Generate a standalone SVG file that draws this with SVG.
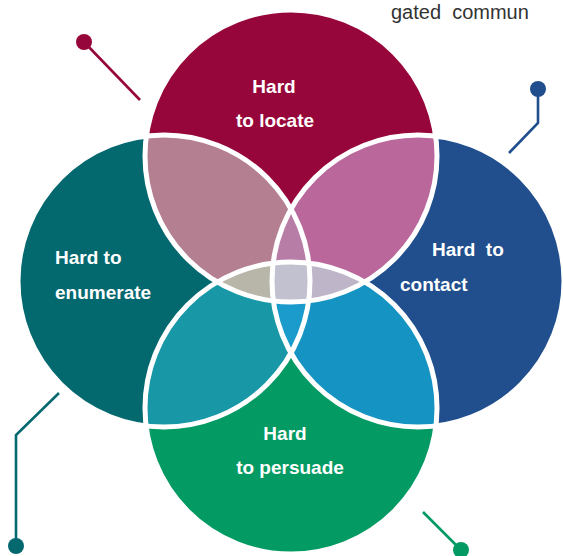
<svg xmlns="http://www.w3.org/2000/svg" width="563" height="556" viewBox="0 0 563 556">
<style>
.lbl{font-family:"Liberation Sans",Arial,sans-serif;font-weight:bold;font-size:19px;fill:#ffffff}
.cap{font-family:"Liberation Sans",Arial,sans-serif;font-size:20px;fill:#333333}
.ring{fill:none;stroke:#ffffff;stroke-width:5}
.lead{fill:none;stroke-width:2.6}
</style>
<defs>
<clipPath id="cT"><circle cx="291" cy="156" r="146"/></clipPath>
<clipPath id="cL"><circle cx="164" cy="281" r="146"/></clipPath>
<clipPath id="cR"><circle cx="418" cy="281" r="146"/></clipPath>
<clipPath id="cB"><circle cx="291" cy="408" r="146"/></clipPath>
</defs>
<rect width="563" height="556" fill="#ffffff"/>
<text class="cap" x="391" y="19" xml:space="preserve">gated  commun</text>

<g id="connectors">
<polyline class="lead" stroke="#97063A" points="84,42 140,100"/>
<circle cx="84" cy="42" r="8" fill="#97063A"/>
<polyline class="lead" stroke="#214F8E" points="538,89 538,123 509,153"/>
<circle cx="538" cy="89" r="8" fill="#214F8E"/>
<polyline class="lead" stroke="#04686F" points="59,393 16,435 16,546"/>
<circle cx="16" cy="546" r="8" fill="#04686F"/>
<polyline class="lead" stroke="#039A63" points="423,512 461,550"/>
<circle cx="461" cy="550" r="8" fill="#039A63"/>
</g>

<g id="node-locate"><circle cx="291" cy="156" r="146" fill="#97063A"/></g>
<g id="node-enumerate"><circle cx="164" cy="281" r="147" fill="#04686F"/></g>
<g id="node-contact"><circle cx="418" cy="281" r="146" fill="#214F8E"/></g>
<g id="node-persuade"><circle cx="291" cy="408" r="146" fill="#039A63"/></g>

<g id="overlaps">
<g clip-path="url(#cT)"><circle cx="164" cy="281" r="146" fill="#B47F90"/></g>
<g clip-path="url(#cT)"><circle cx="418" cy="281" r="146" fill="#BA679C"/></g>
<g clip-path="url(#cB)"><circle cx="164" cy="281" r="146" fill="#1898A6"/></g>
<g clip-path="url(#cB)"><circle cx="418" cy="281" r="146" fill="#1594C3"/></g>
<g clip-path="url(#cT)"><g clip-path="url(#cL)"><circle cx="418" cy="281" r="146" fill="#B87DA7"/></g></g>
<g clip-path="url(#cT)"><g clip-path="url(#cL)"><circle cx="291" cy="408" r="146" fill="#B8B6A9"/></g></g>
<g clip-path="url(#cT)"><g clip-path="url(#cR)"><circle cx="291" cy="408" r="146" fill="#BFB5C8"/></g></g>
<g clip-path="url(#cB)"><g clip-path="url(#cL)"><circle cx="418" cy="281" r="146" fill="#1B9BCC"/></g></g>
<g clip-path="url(#cT)"><g clip-path="url(#cL)"><g clip-path="url(#cR)"><circle cx="291" cy="408" r="146" fill="#C1C1CF"/></g></g></g>
</g>

<g id="outlines">
<circle class="ring" cx="291" cy="156" r="146"/>
<circle class="ring" cx="164" cy="281" r="146"/>
<circle class="ring" cx="418" cy="281" r="146"/>
<circle class="ring" cx="291" cy="408" r="146"/>
</g>

<g id="labels">
<text class="lbl" x="274" y="93" text-anchor="middle">Hard</text>
<text class="lbl" x="275" y="127" text-anchor="middle">to locate</text>
<text class="lbl" x="55" y="264">Hard to</text>
<text class="lbl" x="55" y="299">enumerate</text>
<text class="lbl" x="432" y="256" xml:space="preserve">Hard  to</text>
<text class="lbl" x="400" y="291">contact</text>
<text class="lbl" x="285" y="440" text-anchor="middle">Hard</text>
<text class="lbl" x="290" y="474" text-anchor="middle">to persuade</text>
</g>
</svg>
